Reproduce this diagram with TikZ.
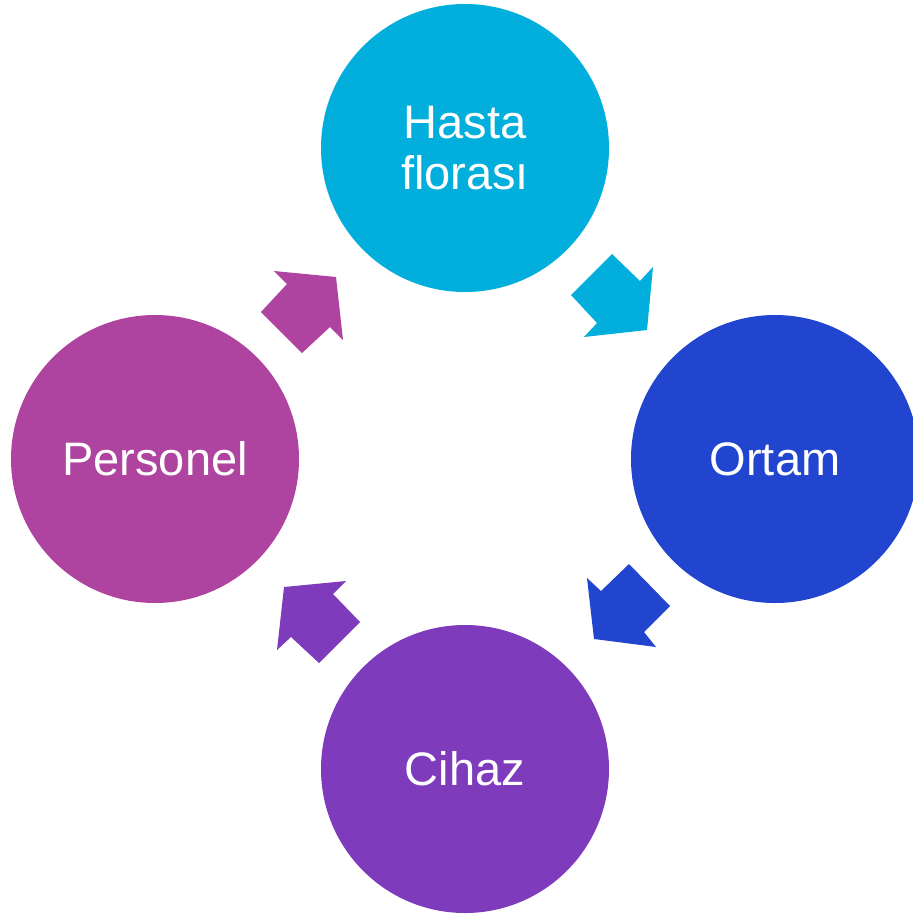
\documentclass[tikz,border=0pt]{standalone}
\usepackage{fontspec}
\setmainfont{Liberation Sans}
\definecolor{cTop}{HTML}{02AEDB}
\definecolor{cRight}{HTML}{2145CE}
\definecolor{cBottom}{HTML}{7E3BBC}
\definecolor{cLeft}{HTML}{AE449F}
\tikzset{
  stage/.style={circle, minimum size=288pt, inner sep=0pt, text=white, align=center,
    font=\fontsize{47}{51}\selectfont},
}
\begin{document}
\begin{tikzpicture}[x=1pt,y=-1pt]
\useasboundingbox (0,0) rectangle (913,916);
\node[stage, fill=cTop]    (top)    at (465,148) {Hasta\\florası};
\node[stage, fill=cRight]  (right)  at (775,459) {Ortam};
\node[stage, fill=cBottom] (bottom) at (465,769) {Cihaz};
\node[stage, fill=cLeft]   (left)   at (155,459) {Personel};
% block arrows
\fill[cTop] (571,295) -- (612,254) -- (640,281) -- (653,267) -- (647,330) -- (584,337) -- (597,323) -- cycle;
\fill[cRight] (629,564) -- (670,606) -- (644,632) -- (656,647) -- (594,639) -- (587,578) -- (601,591) -- cycle;
\fill[cBottom] (360,622) -- (319,663) -- (291,637) -- (277,650) -- (284,587) -- (346,581) -- (333,594) -- cycle;
\fill[cLeft] (302,353) -- (261,312) -- (287,284) -- (274,271) -- (336,277) -- (343,340) -- (330,327) -- cycle;
\end{tikzpicture}
\end{document}
